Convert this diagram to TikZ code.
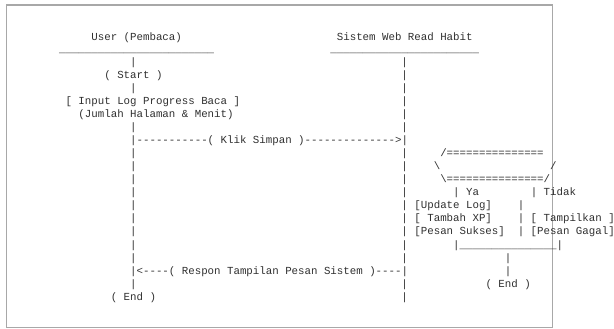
\documentclass[tikz,border=0pt]{standalone}
\usepackage{fontspec}
\setmonofont{Liberation Mono}
\ExplSyntaxOn
\cs_new:Npn \reps #1#2 { \prg_replicate:nn {#1} {#2} }
\ExplSyntaxOff
\definecolor{ink}{HTML}{303030}
\definecolor{framecol}{HTML}{A8A8A8}
\newcommand\colx[1]{133.4+6.46*(#1)-3.23}
\newcommand\rowy[1]{65.3+13.05*((#1)-1)}
\newcommand\tline[4]{\node[txt] (#1) at ({\colx{#2}},{\rowy{#3}}) {#4};}
\begin{document}
\begin{tikzpicture}[x=1pt,y=-1pt,
  txt/.style={font=\ttfamily\fontsize{10.77}{13}\selectfont, inner sep=0pt, outer sep=0pt, anchor=base west, text=ink}]
\useasboundingbox (0,0) rectangle (614,329);
\fill[white] (0,0) rectangle (614,329);
\draw[framecol, line width=1.6pt] (6.5,5) rectangle (552.5,327.5);
% headers
\node[txt] (hU) at ({\colx{-6}},40.8) {User (Pembaca)};
\node[txt] (hS) at ({\colx{32}},40.8) {Sistem Web Read Habit};
\node[txt] (uL) at ({\colx{-11}},{\rowy{0}}) {\reps{24}{\_}};
\node[txt] (uR) at ({\colx{31}},{\rowy{0}}) {\reps{23}{\_}};
% left column
\tline{l1}{0}{1}{|}
\tline{l2}{-4}{2}{( Start )}
\tline{l3}{0}{3}{|}
\tline{l4}{-10}{4}{[ Input Log Progress Baca ]}
\tline{l5}{-8}{5}{(Jumlah Halaman \& Menit)}
\tline{l6}{0}{6}{|}
\tline{klik}{0}{7}{|\reps{11}{-}( Klik Simpan )\reps{14}{-}>|}
\tline{l8}{0}{8}{|}
\tline{l9}{0}{9}{|}
\tline{l10}{0}{10}{|}
\tline{l11}{0}{11}{|}
\tline{l12}{0}{12}{|}
\tline{l13}{0}{13}{|}
\tline{l14}{0}{14}{|}
\tline{l15}{0}{15}{|}
\tline{l16}{0}{16}{|}
\tline{respon}{0}{17}{|<\reps{4}{-}( Respon Tampilan Pesan Sistem )\reps{4}{-}|}
\tline{l18}{0}{18}{|}
\tline{l19}{-3}{19}{( End )}
% right column
\tline{r1}{42}{1}{|}
\tline{r2}{42}{2}{|}
\tline{r3}{42}{3}{|}
\tline{r4}{42}{4}{|}
\tline{r5}{42}{5}{|}
\tline{r6}{42}{6}{|}
\tline{r8}{42}{8}{|\reps{5}{~}/\reps{15}{=}}
\tline{r9}{42}{9}{|\reps{4}{~}\textbackslash\reps{17}{~}/}
\tline{r10}{42}{10}{|\reps{5}{~}\textbackslash\reps{15}{=}/}
\tline{r11}{42}{11}{|\reps{7}{~}|~Ya\reps{8}{~}|~Tidak}
\tline{r12}{42}{12}{|~[Update~Log]\reps{4}{~}|}
\tline{r13}{42}{13}{|~[~Tambah~XP]\reps{4}{~}|~[~Tampilkan~]}
\tline{r14}{42}{14}{|~[Pesan~Sukses]~~|~[Pesan~Gagal]}
\tline{r15}{42}{15}{|\reps{7}{~}|\reps{15}{\_}|}
\tline{r16}{42}{16}{|\reps{15}{~}|}
\tline{r17}{58}{17}{|}
\tline{r18}{42}{18}{|\reps{12}{~}( End )}
\tline{r19}{42}{19}{|}
\end{tikzpicture}
\end{document}
